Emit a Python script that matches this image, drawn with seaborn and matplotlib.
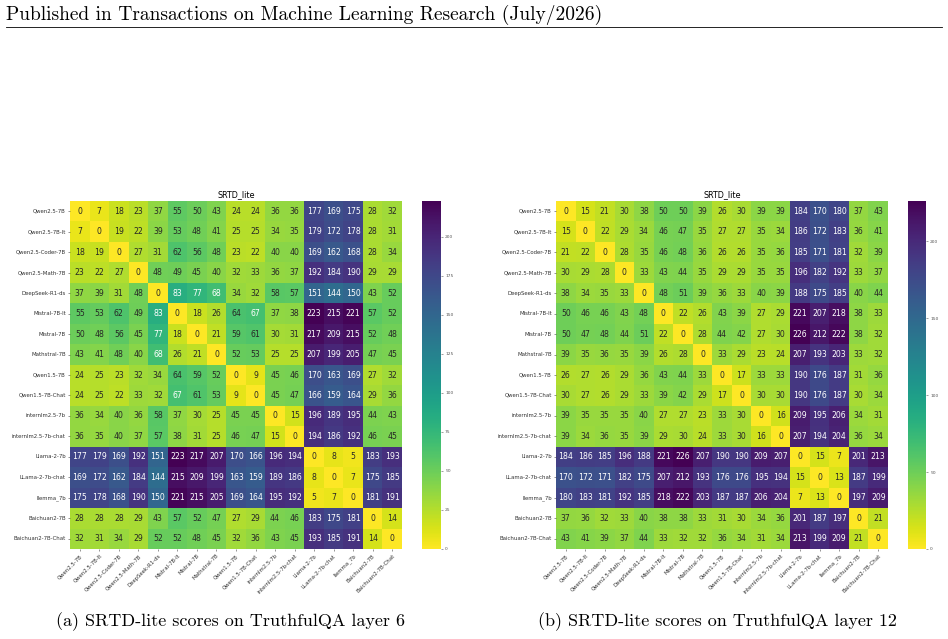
import matplotlib
matplotlib.use("Agg")
import matplotlib.pyplot as plt
import numpy as np
import pandas as pd
import seaborn as sns

# ── data ──────────────────────────────────────────────────────────────────────
MODELS = [
    "Qwen2.5-7B", "Qwen2.5-7B-It", "Qwen2.5-Coder-7B", "Qwen2.5-Math-7B",
    "DeepSeek-R1-ds", "Mistral-7B-It", "Mistral-7B", "Mathstral-7B",
    "Qwen1.5-7B", "Qwen1.5-7B-Chat", "internlm2.5-7b", "internlm2.5-7b-chat",
    "Llama-2-7b", "LLama-2-7b-chat", "llemma_7b", "Baichuan2-7B",
    "Baichuan2-7B-Chat",
]

# SRTD-lite, TruthfulQA layer 6
LAYER6 = [
    [0, 7, 18, 23, 37, 55, 50, 43, 24, 24, 36, 36, 177, 169, 175, 28, 32],
    [7, 0, 19, 22, 39, 53, 48, 41, 25, 25, 34, 35, 179, 172, 178, 28, 31],
    [18, 19, 0, 27, 31, 62, 56, 48, 23, 22, 40, 40, 169, 162, 168, 28, 34],
    [23, 22, 27, 0, 48, 49, 45, 40, 32, 33, 36, 37, 192, 184, 190, 29, 29],
    [37, 39, 31, 48, 0, 83, 77, 68, 34, 32, 58, 57, 151, 144, 150, 43, 52],
    [55, 53, 62, 49, 83, 0, 18, 26, 64, 67, 37, 38, 223, 215, 221, 57, 52],
    [50, 48, 56, 45, 77, 18, 0, 21, 59, 61, 30, 31, 217, 209, 215, 52, 48],
    [43, 41, 48, 40, 68, 26, 21, 0, 52, 53, 25, 25, 207, 199, 205, 47, 45],
    [24, 25, 23, 32, 34, 64, 59, 52, 0, 9, 45, 46, 170, 163, 169, 27, 32],
    [24, 25, 22, 33, 32, 67, 61, 53, 9, 0, 45, 47, 166, 159, 164, 29, 36],
    [36, 34, 40, 36, 58, 37, 30, 25, 45, 45, 0, 15, 196, 189, 195, 44, 43],
    [36, 35, 40, 37, 57, 38, 31, 25, 46, 47, 15, 0, 194, 186, 192, 46, 45],
    [177, 179, 169, 192, 151, 223, 217, 207, 170, 166, 196, 194, 0, 8, 5, 183, 193],
    [169, 172, 162, 184, 144, 215, 209, 199, 163, 159, 189, 186, 8, 0, 7, 175, 185],
    [175, 178, 168, 190, 150, 221, 215, 205, 169, 164, 195, 192, 5, 7, 0, 181, 191],
    [28, 28, 28, 29, 43, 57, 52, 47, 27, 29, 44, 46, 183, 175, 181, 0, 14],
    [32, 31, 34, 29, 52, 52, 48, 45, 32, 36, 43, 45, 193, 185, 191, 14, 0],
]

# SRTD-lite, TruthfulQA layer 12
LAYER12 = [
    [0, 15, 21, 30, 38, 50, 50, 39, 26, 30, 39, 39, 184, 170, 180, 37, 43],
    [15, 0, 22, 29, 34, 46, 47, 35, 27, 27, 35, 34, 186, 172, 183, 36, 41],
    [21, 22, 0, 28, 35, 46, 48, 36, 26, 26, 35, 36, 185, 171, 181, 32, 39],
    [30, 29, 28, 0, 33, 43, 44, 35, 29, 29, 35, 35, 196, 182, 192, 33, 37],
    [38, 34, 35, 33, 0, 48, 51, 39, 36, 33, 40, 39, 188, 175, 185, 40, 44],
    [50, 46, 46, 43, 48, 0, 22, 26, 43, 39, 27, 29, 221, 207, 218, 38, 33],
    [50, 47, 48, 44, 51, 22, 0, 28, 44, 42, 27, 30, 226, 212, 222, 38, 32],
    [39, 35, 36, 35, 39, 26, 28, 0, 33, 29, 23, 24, 207, 193, 203, 33, 32],
    [26, 27, 26, 29, 36, 43, 44, 33, 0, 17, 33, 33, 190, 176, 187, 31, 36],
    [30, 27, 26, 29, 33, 39, 42, 29, 17, 0, 30, 30, 190, 176, 187, 30, 34],
    [39, 35, 35, 35, 40, 27, 27, 23, 33, 30, 0, 16, 209, 195, 206, 34, 31],
    [39, 34, 36, 35, 39, 29, 30, 24, 33, 30, 16, 0, 207, 194, 204, 36, 34],
    [184, 186, 185, 196, 188, 221, 226, 207, 190, 190, 209, 207, 0, 15, 7, 201, 213],
    [170, 172, 171, 182, 175, 207, 212, 193, 176, 176, 195, 194, 15, 0, 13, 187, 199],
    [180, 183, 181, 192, 185, 218, 222, 203, 187, 187, 206, 204, 7, 13, 0, 197, 209],
    [37, 36, 32, 33, 40, 38, 38, 33, 31, 30, 34, 36, 201, 187, 197, 0, 21],
    [43, 41, 39, 37, 44, 33, 32, 32, 36, 34, 31, 34, 213, 199, 209, 21, 0],
]

CAPTIONS = [
    "(a) SRTD-lite scores on TruthfulQA layer 6",
    "(b) SRTD-lite scores on TruthfulQA layer 12",
]
HEADER = "Published in Transactions on Machine Learning Research (July/2026)"

# ── layout (figure pixels, 948 x 639) ─────────────────────────────────────────
W, H = 948, 639
SERIF = ["cmr10", "DejaVu Serif"]


def px_axes(fig, x0, y0, x1, y1):
    return fig.add_axes([x0 / W, 1 - y1 / H, (x1 - x0) / W, (y1 - y0) / H])


def draw_panel(fig, mat, hm_box, cb_box, cb_ticks):
    df = pd.DataFrame(np.array(mat), index=MODELS, columns=MODELS)
    ax = px_axes(fig, *hm_box)
    cax = px_axes(fig, *cb_box)
    sns.heatmap(df, ax=ax, cbar_ax=cax, cmap="viridis_r", vmin=0,
                annot=True, fmt="d", annot_kws={"size": 5.6},
                xticklabels=True, yticklabels=True)
    ax.set_title("SRTD_lite", fontsize=5.8, pad=3)
    ax.tick_params(axis="both", labelsize=3.9, length=1.5, width=0.4,
                   pad=1.5, colors="#444444", labelcolor="#333333")
    plt.setp(ax.get_xticklabels(), rotation=45, ha="right",
             rotation_mode="anchor")
    plt.setp(ax.get_yticklabels(), rotation=0)
    cax.set_yticks(cb_ticks)
    cax.tick_params(labelsize=3.2, length=1.5, width=0.4, pad=1.5,
                    colors="#555555")
    return ax


def main():
    fig = plt.figure(figsize=(W / 100, H / 100), dpi=100)

    fig.text(6 / W, 1 - 15 / H, HEADER, family=SERIF, fontsize=14,
             va="center", ha="left")
    fig.add_artist(plt.Line2D([6 / W, 942 / W], [1 - 27 / H, 1 - 27 / H],
                              color="black", linewidth=0.6))

    draw_panel(fig, LAYER6, (70, 201, 402, 549), (422, 201, 441, 549),
               [0, 25, 50, 75, 100, 125, 150, 175, 200])
    draw_panel(fig, LAYER12, (556, 201, 888, 549), (908, 201, 926, 549),
               [0, 50, 100, 150, 200])

    fig.text(230 / W, 1 - 622 / H, CAPTIONS[0], family=SERIF, fontsize=13,
             ha="center", va="center")
    fig.text(717 / W, 1 - 622 / H, CAPTIONS[1], family=SERIF, fontsize=13,
             ha="center", va="center")

    fig.savefig("out.png", dpi=100)
    plt.close(fig)


if __name__ == "__main__":
    main()
